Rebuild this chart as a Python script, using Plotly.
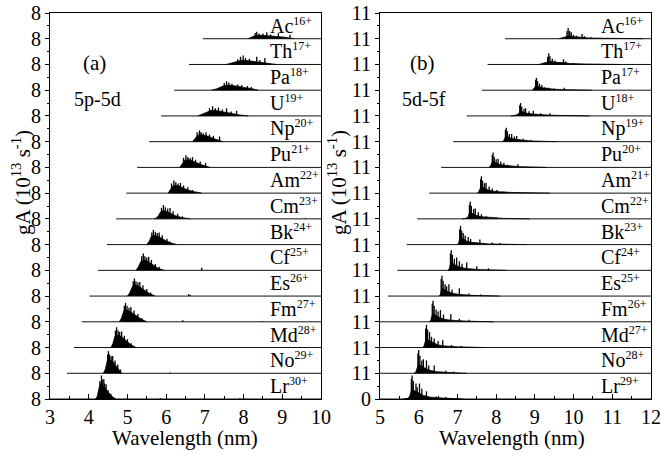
import plotly.graph_objects as go

FONT = "Liberation Serif"

# ---------------- data ----------------
ions = ["Ac", "Th", "Pa", "U", "Np", "Pu", "Am", "Cm", "Bk", "Cf", "Es", "Fm", "Md", "No", "Lr"]
charges_a = ["16+", "17+", "18+", "19+", "20+", "21+", "22+", "23+", "24+", "25+", "26+", "27+", "28+", "29+", "30+"]
charges_b = ["16+", "17+", "17+", "18+", "19+", "20+", "21+", "22+", "23+", "24+", "25+", "26+", "27+", "28+", "29+"]

# wavelength (nm) where each spectrum baseline begins
start_a = [6.95, 6.59, 6.21, 5.87, 5.56, 5.25, 4.97, 4.71, 4.47, 4.24, 4.02, 3.82, 3.62, 3.44, 3.0]
start_b = [8.23, 7.78, 7.63, 7.24, 6.89, 6.58, 6.27, 5.96, 5.69, 5.45, 5.2, 5.0, 5.0, 5.0, 5.0]

# gA per row (10^13 s^-1) : tick values
row_a = 8
row_b = 11
yticktext_a = ["8"] * 16
yticktext_b = ["0"] + ["11"] * 15

# ---- panel (a) 5p-5d : dense envelope (wavelength, gA) ----
body_wl_a = [
    [8.12, 8.2, 8.3, 8.45, 8.6, 8.75, 8.9, 9.05, 9.2, 9.3],
    [7.55, 7.65, 7.8, 7.95, 8.1, 8.25, 8.4, 8.55, 8.7, 8.85],
    [7.17, 7.3, 7.45, 7.6, 7.75, 7.9, 8.05, 8.2, 8.38],
    [6.82, 6.92, 7.05, 7.18, 7.32, 7.45, 7.6, 7.75, 7.9, 8.12],
    [6.68, 6.74, 6.82, 6.9, 7.0, 7.1, 7.2, 7.32, 7.46],
    [6.35, 6.41, 6.48, 6.56, 6.65, 6.75, 6.85, 6.97, 7.13],
    [6.05, 6.1, 6.17, 6.25, 6.34, 6.44, 6.55, 6.7, 6.92],
    [5.7, 5.78, 5.86, 5.94, 6.03, 6.13, 6.24, 6.4, 6.63],
    [5.5, 5.56, 5.62, 5.7, 5.79, 5.88, 5.98, 6.1, 6.28],
    [5.22, 5.28, 5.35, 5.43, 5.52, 5.61, 5.7, 5.8, 5.95],
    [5.0, 5.06, 5.13, 5.21, 5.3, 5.39, 5.48, 5.58, 5.72],
    [4.79, 4.84, 4.91, 4.99, 5.07, 5.16, 5.26, 5.36, 5.5],
    [4.57, 4.62, 4.68, 4.76, 4.84, 4.92, 5.0, 5.1, 5.22],
    [4.38, 4.43, 4.48, 4.55, 4.62, 4.69, 4.76, 4.85],
    [4.18, 4.22, 4.27, 4.31, 4.36, 4.42, 4.48, 4.55, 4.62, 4.7],
]
body_ga_a = [
    [0, 0.4, 1.0, 1.1, 1.0, 0.8, 0.6, 0.5, 0.2, 0],
    [0, 0.3, 0.8, 1.3, 1.2, 1.0, 0.8, 0.6, 0.3, 0],
    [0, 0.4, 1.2, 1.6, 1.4, 1.0, 0.8, 0.5, 0],
    [0, 0.5, 1.2, 1.8, 1.6, 1.3, 1.0, 0.6, 0.3, 0],
    [0, 0.8, 2.0, 2.2, 2.0, 1.6, 1.1, 0.6, 0],
    [0, 1.0, 2.2, 2.4, 2.2, 1.6, 1.1, 0.6, 0],
    [0, 1.0, 2.2, 2.4, 2.2, 1.6, 1.0, 0.5, 0],
    [0, 0.6, 2.2, 2.6, 2.2, 1.6, 1.0, 0.4, 0],
    [0, 1.0, 2.6, 2.9, 2.6, 1.9, 1.3, 0.6, 0],
    [0, 1.0, 2.8, 3.2, 2.8, 2.1, 1.3, 0.6, 0],
    [0, 1.0, 3.0, 3.4, 3.0, 2.2, 1.4, 0.7, 0],
    [0, 1.0, 3.4, 3.6, 3.2, 2.4, 1.5, 0.8, 0],
    [0, 1.1, 3.6, 3.8, 3.4, 2.6, 1.6, 0.8, 0],
    [0, 1.3, 4.0, 4.2, 3.6, 2.6, 1.6, 0],
    [0, 0.8, 3.6, 4.8, 4.4, 3.6, 2.4, 1.4, 0.6, 0],
]
# ---- panel (a) : strongest individual lines ----
stick_wl_a = [
    [8.3, 8.34, 8.4, 8.5, 8.6, 8.7, 8.9, 9.2],
    [7.85, 7.92, 7.99, 8.05, 8.15, 8.34, 8.42, 8.55],
    [7.5, 7.56, 7.62, 7.7, 7.85, 7.95, 8.1, 8.2],
    [7.12, 7.2, 7.27, 7.35, 7.45, 7.56, 7.68, 7.82],
    [6.8, 6.86, 6.9, 6.96, 7.03, 7.12, 7.22, 7.38],
    [6.45, 6.51, 6.56, 6.62, 6.68, 6.76, 6.88, 7.02],
    [6.14, 6.2, 6.25, 6.31, 6.37, 6.45, 6.56, 6.68],
    [5.88, 5.93, 5.98, 6.04, 6.1, 6.18, 6.3, 6.42, 9.6],
    [5.63, 5.67, 5.72, 5.77, 5.82, 5.9, 6.02, 6.1],
    [5.37, 5.41, 5.45, 5.5, 5.55, 5.62, 5.72, 5.82, 6.92],
    [5.15, 5.18, 5.22, 5.27, 5.32, 5.4, 5.5, 5.6, 6.58, 6.62],
    [4.92, 4.95, 4.99, 5.04, 5.09, 5.17, 5.27, 5.37, 6.43, 8.5],
    [4.69, 4.72, 4.76, 4.8, 4.85, 4.92, 5.0, 5.1],
    [4.49, 4.51, 4.54, 4.58, 4.62, 4.68, 4.75, 4.82, 6.1],
    [4.29, 4.33, 4.35, 4.39, 4.41, 4.45, 4.5, 4.57, 5.85, 7.9],
]
stick_ga_a = [
    [1.8, 2.2, 1.6, 1.6, 2.0, 1.3, 1.8, 1.2],
    [1.6, 2.4, 2.8, 2.0, 1.8, 2.4, 1.4, 2.0],
    [2.2, 2.8, 2.4, 2.0, 1.8, 1.6, 1.3, 1.0],
    [2.4, 3.0, 2.4, 2.6, 2.0, 2.4, 1.4, 1.6],
    [2.9, 3.5, 3.0, 2.6, 2.9, 2.2, 1.8, 1.6],
    [3.0, 3.8, 3.2, 2.9, 3.2, 2.4, 1.8, 1.4],
    [3.0, 3.9, 3.4, 3.0, 3.2, 2.4, 1.8, 1.0],
    [3.4, 4.3, 3.6, 3.2, 3.4, 2.4, 1.6, 0.8, 0.2],
    [3.8, 4.6, 4.0, 3.6, 3.8, 2.9, 1.8, 1.0],
    [4.4, 5.2, 4.4, 4.0, 4.2, 3.2, 2.0, 1.1, 0.8],
    [4.6, 5.5, 4.6, 4.2, 4.4, 3.4, 2.2, 1.1, 0.6, 0.4],
    [5.0, 5.9, 5.0, 4.4, 4.6, 3.5, 2.4, 1.2, 0.5, 0.2],
    [5.3, 6.3, 5.3, 4.8, 5.0, 3.7, 2.6, 1.3],
    [5.8, 6.9, 5.8, 5.3, 5.4, 4.0, 2.7, 1.2, 0.2],
    [5.6, 7.3, 6.0, 6.2, 4.8, 4.6, 2.8, 1.6, 0.3, 0.2],
]

# ---- panel (b) 5d-5f ----
body_wl_b = [
    [9.62, 9.7, 9.8, 9.9, 10.0, 10.1, 10.25, 10.4, 10.8, 11.8],
    [9.1, 9.2, 9.3, 9.4, 9.5, 9.6, 9.75, 9.9, 10.3, 11.2],
    [8.94, 8.98, 9.03, 9.1, 9.2, 9.35, 9.5, 9.8, 10.47],
    [8.38, 8.5, 8.58, 8.63, 8.7, 8.8, 8.95, 9.1, 9.4, 10.42],
    [8.17, 8.21, 8.25, 8.32, 8.42, 8.55, 8.7, 8.9, 9.56],
    [7.82, 7.86, 7.91, 7.98, 8.08, 8.2, 8.35, 8.6, 9.3],
    [7.52, 7.56, 7.61, 7.68, 7.78, 7.9, 8.05, 8.4, 9.39],
    [7.12, 7.2, 7.27, 7.32, 7.4, 7.5, 7.62, 7.8, 8.2, 8.87],
    [7.0, 7.03, 7.07, 7.14, 7.24, 7.36, 7.52, 7.8, 8.79],
    [6.75, 6.79, 6.83, 6.9, 7.0, 7.12, 7.28, 7.6, 8.27],
    [6.53, 6.56, 6.6, 6.67, 6.77, 6.9, 7.05, 7.4, 8.1],
    [6.27, 6.31, 6.36, 6.43, 6.53, 6.66, 6.82, 7.2, 7.93],
    [6.1, 6.14, 6.19, 6.26, 6.36, 6.5, 6.66, 7.0, 7.67],
    [5.88, 5.93, 5.99, 6.06, 6.16, 6.28, 6.45, 6.8, 7.24],
    [5.6, 5.7, 5.76, 5.82, 5.9, 6.0, 6.12, 6.3, 6.6, 7.15],
]
body_ga_b = [
    [0, 0.4, 1.1, 1.3, 0.9, 0.7, 0.7, 0.3, 0.2, 0],
    [0, 0.3, 0.9, 1.3, 1.0, 0.8, 0.8, 0.4, 0.2, 0],
    [0, 0.7, 2.0, 1.5, 1.0, 0.7, 0.4, 0.2, 0],
    [0, 0.3, 0.9, 2.2, 1.7, 1.1, 0.8, 0.6, 0.3, 0],
    [0, 0.9, 2.4, 1.8, 1.3, 0.9, 0.6, 0.3, 0],
    [0, 0.9, 2.6, 2.0, 1.3, 0.9, 0.6, 0.3, 0],
    [0, 0.9, 2.9, 2.2, 1.4, 0.9, 0.6, 0.3, 0],
    [0, 0.2, 0.7, 2.9, 2.2, 1.4, 0.9, 0.6, 0.2, 0],
    [0, 0.7, 3.1, 2.4, 1.5, 1.0, 0.7, 0.3, 0],
    [0, 0.7, 3.3, 2.6, 1.8, 1.1, 0.7, 0.3, 0],
    [0, 0.7, 3.3, 2.6, 1.8, 1.1, 0.7, 0.3, 0],
    [0, 0.7, 3.5, 2.8, 1.9, 1.1, 0.7, 0.3, 0],
    [0, 0.8, 3.7, 3.1, 2.0, 1.1, 0.7, 0.3, 0],
    [0, 0.7, 3.9, 3.1, 2.2, 1.3, 0.7, 0.3, 0],
    [0, 0.2, 0.9, 4.0, 3.5, 2.6, 1.5, 0.8, 0.4, 0],
]
stick_wl_b = [
    [9.83, 9.86, 9.9, 9.94, 10.0, 10.08, 10.22, 10.28, 10.45],
    [9.33, 9.36, 9.39, 9.45, 9.52, 9.62, 9.74, 9.8, 10.0],
    [9.02, 9.04, 9.07, 9.12, 9.18, 9.26, 9.35, 9.5, 9.76],
    [8.61, 8.63, 8.66, 8.72, 8.76, 8.85, 8.96, 9.15, 9.39],
    [8.24, 8.26, 8.29, 8.34, 8.4, 8.47, 8.53, 8.7, 8.9],
    [7.9, 7.92, 7.95, 8.0, 8.05, 8.12, 8.2, 8.3, 8.56],
    [7.6, 7.62, 7.65, 7.7, 7.74, 7.82, 7.9, 8.02, 8.2],
    [7.31, 7.33, 7.36, 7.42, 7.46, 7.54, 7.62, 7.75, 8.0],
    [7.06, 7.08, 7.11, 7.15, 7.2, 7.28, 7.34, 7.58, 7.9, 8.1],
    [6.82, 6.84, 6.87, 6.92, 6.98, 7.05, 7.12, 7.24, 7.5, 7.8],
    [6.58, 6.6, 6.63, 6.68, 6.72, 6.78, 6.86, 7.05, 7.3, 7.6],
    [6.35, 6.37, 6.4, 6.45, 6.5, 6.56, 6.64, 6.83, 7.05, 7.3],
    [6.18, 6.2, 6.23, 6.28, 6.33, 6.4, 6.5, 6.62, 6.85, 7.1],
    [5.98, 6.0, 6.03, 6.08, 6.12, 6.2, 6.26, 6.4, 6.7, 6.9],
    [5.81, 5.83, 5.86, 5.93, 5.96, 6.02, 6.08, 6.2, 6.45, 6.7],
]
stick_ga_b = [
    [3.3, 4.6, 3.3, 2.8, 1.7, 1.3, 2.0, 1.1, 0.6],
    [3.3, 4.8, 3.5, 2.4, 1.7, 1.1, 2.2, 1.3, 0.6],
    [4.4, 5.3, 3.9, 2.8, 2.2, 1.3, 1.1, 0.7, 1.1],
    [4.6, 5.5, 4.0, 3.1, 3.3, 2.0, 2.2, 1.1, 1.1],
    [5.0, 6.0, 4.4, 3.3, 3.3, 2.2, 2.4, 1.3, 0.7],
    [5.3, 6.4, 4.6, 3.5, 3.7, 2.4, 2.0, 1.1, 1.3],
    [6.0, 7.2, 5.3, 4.2, 4.4, 2.8, 2.0, 1.3, 0.7],
    [6.0, 7.4, 5.5, 4.2, 4.4, 2.8, 2.0, 1.1, 0.7],
    [6.6, 8.0, 6.0, 5.0, 3.9, 3.3, 2.4, 2.2, 0.9, 0.7],
    [7.2, 8.6, 6.6, 5.0, 5.5, 3.9, 2.8, 3.3, 1.7, 0.9],
    [7.3, 8.7, 6.6, 5.0, 4.2, 5.0, 2.8, 3.3, 1.1, 0.7],
    [7.7, 9.0, 6.8, 5.3, 4.4, 5.0, 3.1, 3.3, 1.3, 0.9],
    [8.1, 9.7, 7.7, 6.6, 4.6, 3.9, 2.8, 3.1, 1.1, 0.7],
    [8.4, 9.9, 7.5, 5.5, 6.0, 5.5, 3.3, 3.3, 1.1, 0.7],
    [8.6, 10.0, 7.7, 6.6, 5.0, 6.6, 4.4, 3.3, 1.1, 0.9],
]

xrange_a = [3, 10]
xrange_b = [5, 12]
label_x_a = 8.63
label_x_b = 10.66

# ---------------- figure ----------------
fig = go.Figure()


def add_panel(xa, ya, charges, starts, bws, bgs, sws, sgs, row, xmax, label_x):
    n = len(ions)
    bx, by = [], []
    for i in range(n):
        off = (n - 1 - i) * row
        bx += [starts[i], xmax, None]
        by += [off, off, None]
    fig.add_trace(go.Scatter(x=bx, y=by, mode="lines", line=dict(color="#111", width=1),
                             xaxis=xa, yaxis=ya, hoverinfo="skip"))
    for i in range(n):
        off = (n - 1 - i) * row
        fig.add_trace(go.Scatter(x=bws[i], y=[off + g for g in bgs[i]], mode="lines",
                                 fill="toself", fillcolor="black",
                                 line=dict(color="black", width=0.8),
                                 xaxis=xa, yaxis=ya, hoverinfo="skip"))
        sx, sy = [], []
        for w, g in zip(sws[i], sgs[i]):
            sx += [w, w, None]
            sy += [off, off + g, None]
        fig.add_trace(go.Scatter(x=sx, y=sy, mode="lines", line=dict(color="black", width=1.3),
                                 xaxis=xa, yaxis=ya, hoverinfo="skip"))
        fig.add_annotation(x=label_x, y=off, xref=xa, yref=ya, xanchor="left", yanchor="bottom",
                           text=f'{ions[i]}<sup><span style="font-size:12px">{charges[i]}</span></sup>',
                           showarrow=False, font=dict(family=FONT, size=20, color="black"))


add_panel("x", "y", charges_a, start_a, body_wl_a, body_ga_a, stick_wl_a, stick_ga_a, row_a, xrange_a[1], label_x_a)
add_panel("x2", "y2", charges_b, start_b, body_wl_b, body_ga_b, stick_wl_b, stick_ga_b, row_b, xrange_b[1], label_x_b)

W, H = 661, 455
ydom = [1 - 399 / H, 1 - 13 / H]


def xaxis(dom, rng, anchor):
    return dict(domain=dom, range=rng, tickvals=list(range(rng[0], rng[1] + 1)),
                ticks="inside", ticklen=5, tickwidth=1, tickcolor="black",
                minor=dict(dtick=0.5, tick0=0, ticks="inside", ticklen=3, tickcolor="black"),
                showline=True, linecolor="black", linewidth=1, mirror=True,
                showgrid=False, zeroline=False, anchor=anchor, automargin=False,
                tickfont=dict(family=FONT, size=20, color="black"))


def yaxis(row, texts, anchor):
    n = len(texts)
    return dict(domain=ydom, range=[0, row * (n - 1)], tickmode="array",
                tickvals=[row * k for k in range(n)], ticktext=texts,
                ticks="outside", ticklen=4, tickwidth=1, tickcolor="black",
                minor=dict(tickmode="array", tickvals=[row * k + row / 2 for k in range(n - 1)],
                           ticks="outside", ticklen=2, tickcolor="black"),
                showline=True, linecolor="black", linewidth=1, mirror=True,
                showgrid=False, zeroline=False, anchor=anchor, automargin=False,
                tickfont=dict(family=FONT, size=20, color="black"))


fig.update_layout(
    width=W, height=H, margin=dict(l=0, r=0, t=0, b=0, autoexpand=False),
    paper_bgcolor="white", plot_bgcolor="white", showlegend=False,
    xaxis=xaxis([50 / W, 321 / W], xrange_a, "y"),
    yaxis=yaxis(row_a, yticktext_a, "x"),
    xaxis2=xaxis([380 / W, 651 / W], xrange_b, "y2"),
    yaxis2=yaxis(row_b, yticktext_b, "x2"),
)

txt = dict(family=FONT, color="black")
ann = [
    dict(x=94 / W, y=1 - 63 / H, text="(a)", size=21),
    dict(x=97 / W, y=1 - 99 / H, text="5p-5d", size=20),
    dict(x=422 / W, y=1 - 63 / H, text="(b)", size=21),
    dict(x=424 / W, y=1 - 99 / H, text="5d-5f", size=20),
    dict(x=185 / W, y=1 - 438 / H, text="Wavelength (nm)", size=21),
    dict(x=512 / W, y=1 - 438 / H, text="Wavelength (nm)", size=21),
]
for a in ann:
    fig.add_annotation(x=a["x"], y=a["y"], xref="paper", yref="paper", xanchor="center", yanchor="middle",
                       text=a["text"], showarrow=False, font=dict(size=a["size"], **txt))

for xp in [21, 337]:
    fig.add_annotation(x=xp / W, y=1 - 183 / H, xref="paper", yref="paper", xanchor="center", yanchor="middle",
                       text="gA (10<sup>13</sup> s<sup>-1</sup>)", textangle=-90, showarrow=False,
                       font=dict(size=21, **txt))

fig.write_html("out.html", config={"displayModeBar": False, "staticPlot": True},
               post_script="document.body.style.margin='0';document.body.style.overflow='hidden';")
